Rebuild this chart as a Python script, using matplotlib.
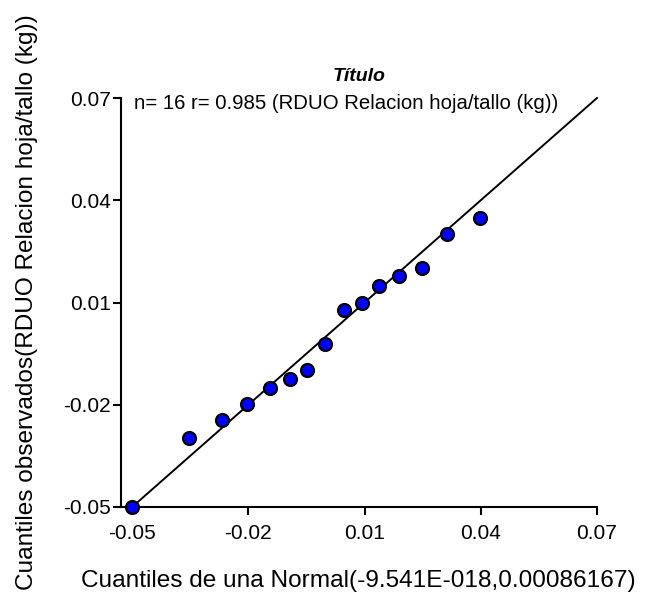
import matplotlib
matplotlib.use("Agg")
import matplotlib.pyplot as plt

plt.rcParams['font.family'] = ['Liberation Sans', 'DejaVu Sans']

# cuantiles teoricos (normal) y observados
teoricos = [-0.0500, -0.0353, -0.0268, -0.0203, -0.0143, -0.0093, -0.0048, -0.0002,
            0.0047, 0.0093, 0.0137, 0.0188, 0.0247, 0.0313, 0.0397]
observados = [-0.0500, -0.0299, -0.0245, -0.0198, -0.0152, -0.0123, -0.0098, -0.0023,
              0.0078, 0.0100, 0.0149, 0.0177, 0.0200, 0.0301, 0.0348]
ref_linea = [-0.05, 0.07]
ticks = [-0.05, -0.02, 0.01, 0.04, 0.07]
tick_labels = ['-0.05', '-0.02', '0.01', '0.04', '0.07']

fig = plt.figure(figsize=(6.51, 5.99), dpi=100)
ax = fig.add_axes([120.5/651, 1-507/599, (597-120.5)/651, (507-98)/599])

ax.plot(ref_linea, ref_linea, color='black', lw=1.4, clip_on=False, zorder=2)
ax.plot(teoricos, observados, 'o', ms=9.3, mfc='#0000ff', mec='black', mew=1.6,
        clip_on=False, zorder=3)

ax.set_xlim(-0.053, 0.07)
ax.set_ylim(-0.05, 0.07)
ax.set_xticks(ticks)
ax.set_xticklabels(tick_labels)
ax.set_yticks(ticks)
ax.set_yticklabels(tick_labels)
for s in ['top', 'right']:
    ax.spines[s].set_visible(False)
for s in ['left', 'bottom']:
    ax.spines[s].set_linewidth(1.5)
ax.tick_params(direction='out', length=6, width=1.5, labelsize=15)
ax.tick_params(axis='x', pad=6)
ax.tick_params(axis='y', pad=1)

ax.text(0.029, 0.987, 'n= 16 r= 0.985 (RDUO Relacion hoja/tallo (kg))',
        transform=ax.transAxes, fontsize=14.7, va='center', ha='left')
ax.set_title('Título', fontsize=14, fontweight='bold', fontstyle='italic', pad=12)
ax.set_xlabel('Cuantiles de una Normal(-9.541E-018,0.00086167)', fontsize=17.6, labelpad=20)
ax.set_ylabel('Cuantiles observados(RDUO Relacion hoja/tallo (kg))', fontsize=17.6, labelpad=18)

fig.savefig('out.png', dpi=100)
